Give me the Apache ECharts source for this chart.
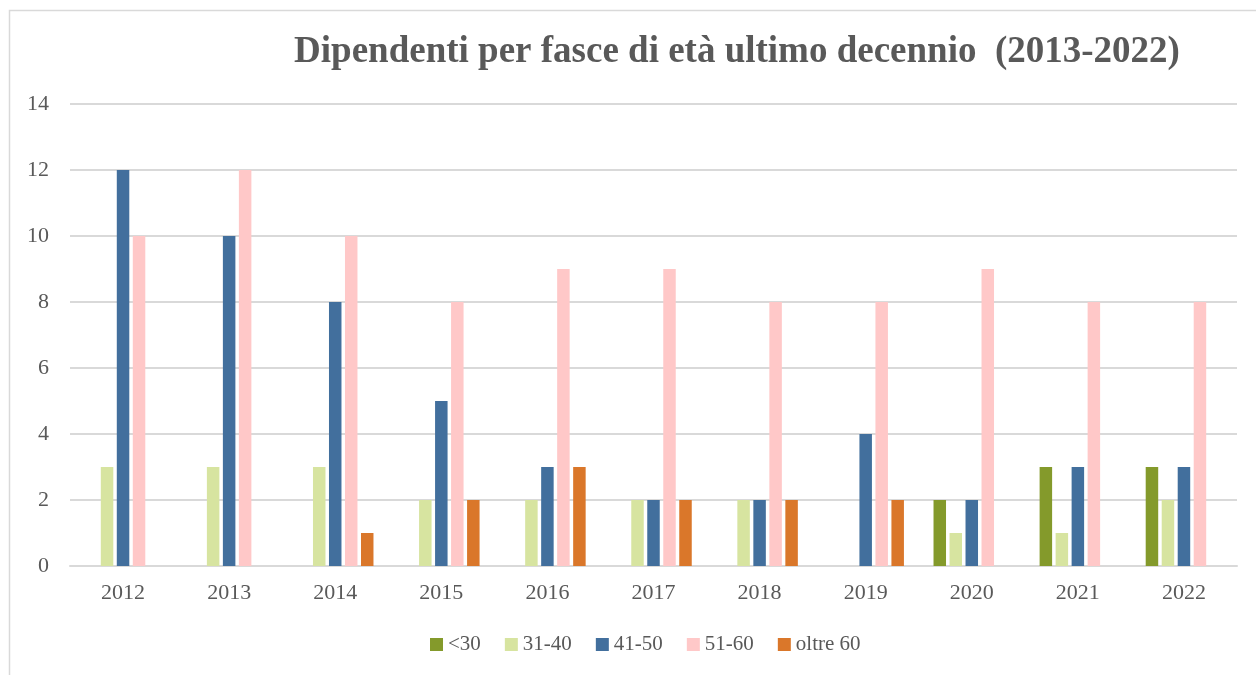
<!DOCTYPE html>
<html lang="it">
<head>
    <meta charset="UTF-8">
    <title>Dipendenti per fasce di età</title>
    <script src="https://cdn.jsdelivr.net/npm/echarts@6/dist/echarts.min.js"></script>
    <style>
        html, body { margin: 0; padding: 0; background: #fff; }
        #chart { width: 1256px; height: 675px; }
    </style>
</head>
<body>
<div id="chart"></div>
<script type="text/javascript">
    const years = ['2012', '2013', '2014', '2015', '2016', '2017', '2018', '2019', '2020', '2021', '2022'];
    const fasce = ['<30', '31-40', '41-50', '51-60', 'oltre 60'];
    const under30 = [0, 0, 0, 0, 0, 0, 0, 0, 2, 3, 3];
    const da31a40 = [3, 3, 3, 2, 2, 2, 2, 0, 1, 1, 2];
    const da41a50 = [12, 10, 8, 5, 3, 2, 2, 4, 2, 3, 3];
    const da51a60 = [10, 12, 10, 8, 9, 9, 8, 8, 9, 8, 8];
    const oltre60 = [0, 0, 1, 2, 3, 2, 2, 2, 0, 0, 0];
    const colori = ['#849A2B', '#D7E4A0', '#426F9D', '#FFC8C8', '#DA772A'];

    const valori = [under30, da31a40, da41a50, da51a60, oltre60];
    const font = '"Liberation Serif", "DejaVu Serif", serif';

    const chart = echarts.init(document.getElementById('chart'));
    chart.setOption({
        animation: false,
        textStyle: { fontFamily: font },
        graphic: [{
            type: 'rect',
            shape: { x: 9.5, y: 10.5, width: 1300, height: 700 },
            style: { fill: 'none', stroke: '#d9d9d9', lineWidth: 1.5 },
            silent: true
        }],
        title: {
            text: 'Dipendenti per fasce di età ultimo decennio  (2013-2022)',
            left: 732,
            textAlign: 'center',
            top: 29,
            textStyle: { fontFamily: font, fontSize: 37, fontWeight: 'bold', color: '#595959' }
        },
        legend: {
            data: fasce,
            bottom: 15,
            left: 425,
            itemWidth: 13,
            itemHeight: 13,
            itemGap: 24,
            icon: 'rect',
            textStyle: { fontFamily: font, fontSize: 21, color: '#595959' }
        },
        grid: { left: 70, right: 19, top: 104, bottom: 109 },
        xAxis: {
            type: 'category',
            data: years,
            axisLine: { lineStyle: { color: '#d9d9d9', width: 2 } },
            axisTick: { show: false },
            axisLabel: { fontFamily: font, fontSize: 22, color: '#595959', margin: 16 }
        },
        yAxis: {
            type: 'value',
            min: 0,
            max: 14,
            interval: 2,
            axisLine: { show: false },
            axisTick: { show: false },
            splitLine: { lineStyle: { color: '#d9d9d9', width: 2 } },
            axisLabel: { fontFamily: font, fontSize: 22, color: '#595959', margin: 21 }
        },
        series: fasce.map((nome, i) => ({
            name: nome,
            type: 'bar',
            data: valori[i],
            barWidth: 12.5,
            barGap: '28%',
            itemStyle: { color: colori[i] }
        }))
    });
</script>
</body>
</html>
